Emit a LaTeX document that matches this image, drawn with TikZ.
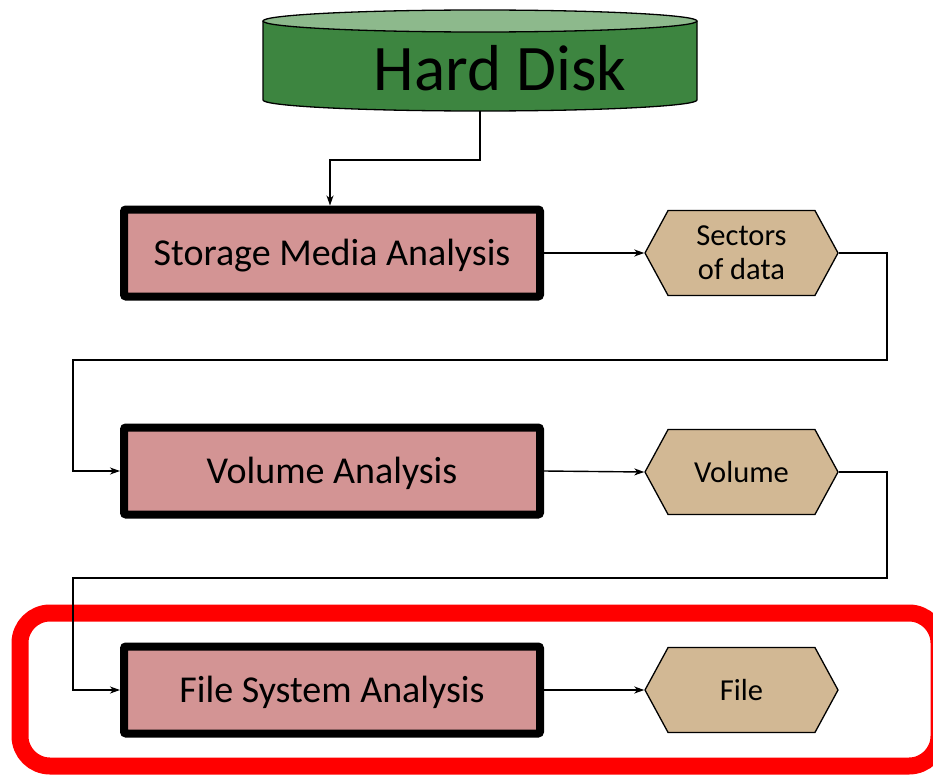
\documentclass[tikz,border=0pt]{standalone}
\usepackage{fontspec}
\setmainfont{Carlito}
\usetikzlibrary{shapes.symbols, arrows.meta}
\definecolor{diskbody}{RGB}{61,133,64}
\definecolor{disktop}{RGB}{141,185,140}
\definecolor{stagefill}{RGB}{211,148,148}
\definecolor{datafill}{RGB}{210,184,148}
\begin{document}
\begin{tikzpicture}[x=1pt, y=-1pt,
  stagebox/.style={draw, line width=8pt, fill=stagefill, rounded corners=2pt,
    minimum width=416pt, minimum height=87pt, inner sep=0pt,
    text height=25pt, text depth=0pt,
    font=\fontsize{38}{44}\selectfont},
  datahex/.style={signal, signal to=west and east, signal pointer angle=123,
    draw, line width=1.3pt, fill=datafill, minimum width=193pt,
    minimum height=85pt, inner sep=0pt, align=center,
    font=\fontsize{30.5}{34}\selectfont},
  flow/.style={line width=1.4pt, -{Stealth[length=10pt, width=7pt, inset=3pt]}},
  focus/.style={draw=red, line width=17pt, rounded corners=30pt}]
\useasboundingbox (0,0) rectangle (933,776);

% highlighted last stage
\draw[focus] (20,613) rectangle (939,766);

% hard disk cylinder
\fill[diskbody] (263,21) -- (263,100)
  arc[start angle=180, end angle=0, x radius=217, y radius=11] -- (697,21) -- cycle;
\draw[line width=1.3pt] (263,21) -- (263,100)
  arc[start angle=180, end angle=0, x radius=217, y radius=11] -- (697,21);
\draw[line width=1.3pt, fill=disktop] (480,21) ellipse[x radius=217, y radius=11];
\node (disk) at (500,68) {\fontsize{65}{70}\selectfont Hard Disk};
\coordinate (diskbase) at (480,111);

% analysis stages
\node[stagebox] (storage) at (332,253) {Storage Media Analysis};
\node[stagebox] (volume) at (332,471) {Volume Analysis};
\node[stagebox] (fs) at (332,690) {File System Analysis};

% stage outputs
\node[datahex] (sectors) at (741.5,253) {Sectors\\of data};
\node[datahex] (vol) at (741.5,472) {Volume};
\node[datahex] (file) at (741.5,690) {File};

% connectors
\draw[flow] (diskbase) -- (480,160) -| (storage.north -| 330,0);
\draw[flow] (storage.east) -- (sectors.west);
\draw[flow] (sectors.east) -- (887,253) -- (887,360) -- (73,360) -- (73,471) -- (volume.west);
\draw[flow] (volume.east) -- (vol.west);
\draw[flow] (vol.east) -- (887,472) -- (887,578) -- (73,578) -- (73,690) -- (fs.west);
\draw[flow] (fs.east) -- (file.west);
\end{tikzpicture}
\end{document}
